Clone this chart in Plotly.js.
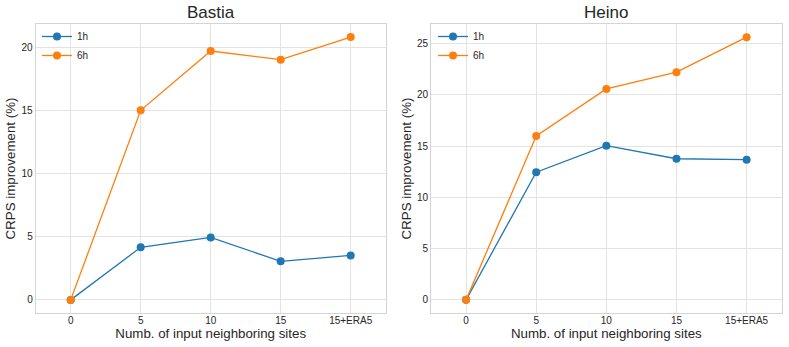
<!DOCTYPE html>
<html>
<head>
<meta charset="utf-8">
<script src="https://cdn.plot.ly/plotly-3.0.1.min.js"></script>
<style>html,body{margin:0;padding:0;background:#fff;}#chart{width:789px;height:347px;}</style>
</head>
<body>
<div id="chart"></div>
<script>
const categories = ["0", "5", "10", "15", "15+ERA5"];
const bastia1h = [0, 4.17, 4.95, 3.06, 3.53];
const bastia6h = [0, 15.03, 19.74, 19.05, 20.84];
const heino1h = [0, 12.45, 15.03, 13.76, 13.67];
const heino6h = [0, 15.98, 20.57, 22.2, 25.62];
const seriesNames = ["1h", "6h"];
const colors = ["#1f77b4", "#ff7f0e"];

const W = 789, H = 347;
const fontFam = "Liberation Sans, Arial, sans-serif";
const gridC = "#e3e3e3";
const frameC = "#d4d4d4";
const textC = "#262626";

function tr(y, name, color, xa, ya, legend) {
  return {
    x: categories, y: y, name: name, type: "scatter", mode: "lines+markers",
    line: {color: color, width: 1.3},
    marker: {color: color, size: 8},
    xaxis: xa, yaxis: ya, legend: legend
  };
}
const data = [
  tr(bastia1h, seriesNames[0], colors[0], "x", "y", "legend"),
  tr(bastia6h, seriesNames[1], colors[1], "x", "y", "legend"),
  tr(heino1h, seriesNames[0], colors[0], "x2", "y2", "legend2"),
  tr(heino6h, seriesNames[1], colors[1], "x2", "y2", "legend2")
];

function xax(domain, anchor) {
  return {
    domain: domain, anchor: anchor, type: "category", range: [-0.5, 4.5],
    showgrid: true, gridcolor: gridC, gridwidth: 1, zeroline: false,
    showline: true, linecolor: frameC, linewidth: 1, mirror: true,
    ticks: "", ticklabelstandoff: -2, tickfont: {size: 10, color: textC, family: fontFam},
    title: {text: "Numb. of input neighboring sites", font: {size: 13.3, color: textC, family: fontFam}, standoff: 0},
    automargin: false, fixedrange: true
  };
}
function yax(domain, anchor, range, dtick) {
  return {
    domain: domain, anchor: anchor, range: range, dtick: dtick,
    showgrid: true, gridcolor: gridC, gridwidth: 1, zeroline: false,
    showline: true, linecolor: frameC, linewidth: 1, mirror: true,
    ticks: "", ticklabelstandoff: 0, tickfont: {size: 10, color: textC, family: fontFam},
    title: {text: "CRPS improvement (%)", font: {size: 13.3, color: textC, family: fontFam}, standoff: 2},
    automargin: false, fixedrange: true
  };
}
const yDom = [1 - 313 / H, 1 - 24 / H];
const legendBase = {xanchor: "left", yanchor: "top", bgcolor: "rgba(0,0,0,0)",
  font: {size: 10, color: textC, family: fontFam}, tracegroupgap: 0, itemwidth: 30};
const layout = {
  width: W, height: H,
  margin: {l: 0, r: 0, t: 0, b: 0},
  paper_bgcolor: "#fff", plot_bgcolor: "#fff",
  font: {family: fontFam, color: textC},
  showlegend: true,
  xaxis: xax([35.7 / W, 385.7 / W], "y"),
  yaxis: yax(yDom, "x", [-1.04, 21.88], 5),
  xaxis2: xax([431 / W, 781.7 / W], "y2"),
  yaxis2: yax(yDom, "x2", [-1.28, 26.9], 5),
  legend: Object.assign({x: 37 / W, y: 1 - 22 / H}, legendBase),
  legend2: Object.assign({x: 433 / W, y: 1 - 22 / H}, legendBase),
  annotations: [
    {text: "Bastia", x: (35.7 + 385.7) / 2 / W, y: 1 - 13 / H, xref: "paper", yref: "paper",
     showarrow: false, font: {size: 17, color: textC, family: fontFam}, xanchor: "center", yanchor: "middle"},
    {text: "Heino", x: (431 + 781.7) / 2 / W, y: 1 - 13 / H, xref: "paper", yref: "paper",
     showarrow: false, font: {size: 17, color: textC, family: fontFam}, xanchor: "center", yanchor: "middle"}
  ]
};
Plotly.newPlot("chart", data, layout, {displayModeBar: false, staticPlot: true});
</script>
</body>
</html>
